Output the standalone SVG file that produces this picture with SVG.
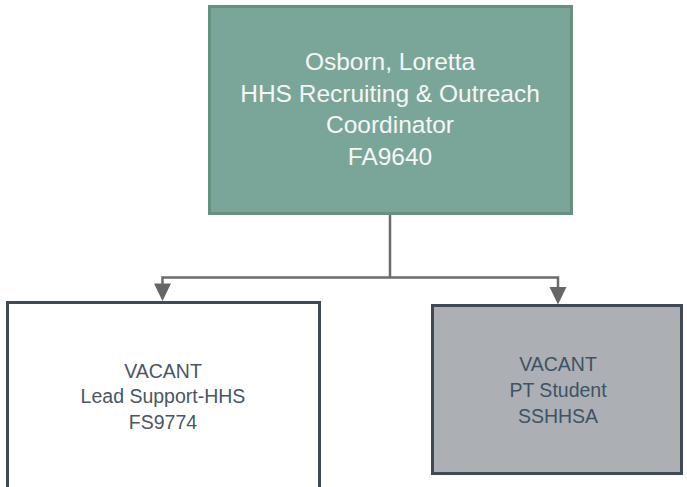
<svg xmlns="http://www.w3.org/2000/svg" width="687" height="487" viewBox="0 0 687 487">
<defs>
<style>
text{font-family:"Liberation Sans","Noto Sans",Arial,sans-serif;text-anchor:middle}
.top{font-size:24.5px;fill:#F4F7F6}
.sub{font-size:19.5px;fill:#4A5664}
.sub2{font-size:19.5px;fill:#3C5465}
.conn{stroke:#6B6B6B;stroke-width:2.5;fill:none}
.head{fill:#666666}
</style>
</defs>
<g id="connectors">
<path class="conn" d="M390,214 V277.5"/>
<path class="conn" d="M162.5,290 V277.5 H558 V295"/>
<path class="head" d="M154,283.5 L171,283.5 L162.5,301 Z"/>
<path class="head" d="M549.5,287 L566.5,287 L558,304.5 Z"/>
</g>
<g id="node-osborn">
<rect x="209.5" y="6.5" width="362" height="207" fill="#7AA699" stroke="#66907F" stroke-width="3"/>
<text class="top" x="390" y="70">Osborn, Loretta</text>
<text class="top" x="390" y="101.7">HHS Recruiting &amp; Outreach</text>
<text class="top" x="390" y="133.3">Coordinator</text>
<text class="top" x="390" y="165">FA9640</text>
</g>
<g id="node-lead">
<rect x="7.5" y="302.5" width="312" height="190" fill="#FFFFFF" stroke="#3F4A55" stroke-width="3"/>
<text class="sub" x="163" y="377.5">VACANT</text>
<text class="sub" x="163" y="403">Lead Support-HHS</text>
<text class="sub" x="163" y="428.5">FS9774</text>
</g>
<g id="node-student">
<rect x="432.5" y="305.5" width="249" height="168" fill="#ACAFB3" stroke="#3F4A55" stroke-width="3"/>
<text class="sub2" x="558" y="371">VACANT</text>
<text class="sub2" x="558" y="397">PT Student</text>
<text class="sub2" x="558" y="422.5">SSHHSA</text>
</g>
</svg>
